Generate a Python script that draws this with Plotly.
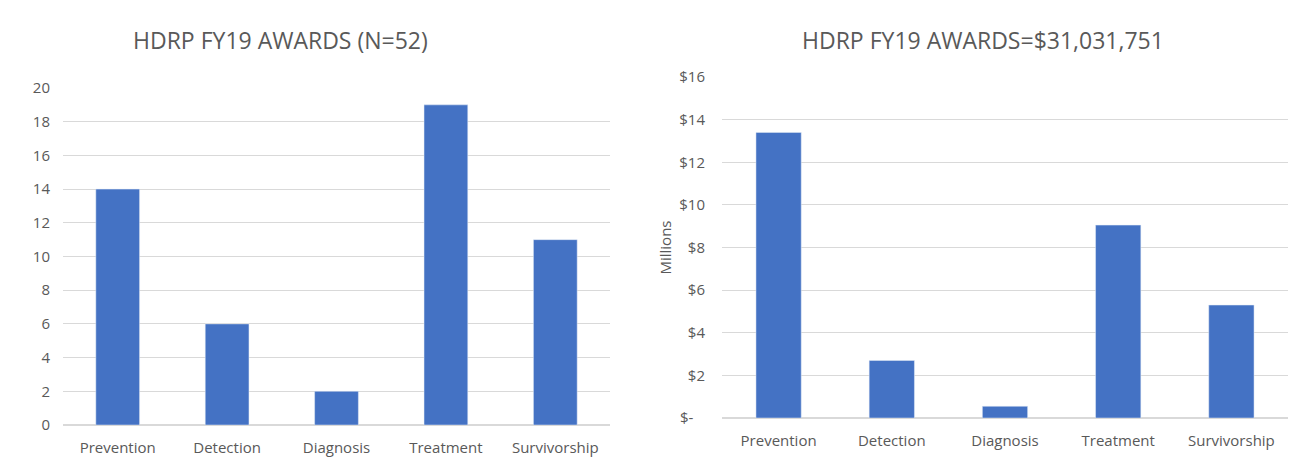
import plotly.graph_objects as go

categories = ["Prevention", "Detection", "Diagnosis", "Treatment", "Survivorship"]
award_counts = [14, 6, 2, 19, 11]
award_millions = [13.4, 2.7, 0.55, 9.05, 5.3]
left_title = "HDRP FY19 AWARDS (N=52)"
right_title = "HDRP FY19 AWARDS=$31,031,751"
count_ticks = [0, 2, 4, 6, 8, 10, 12, 14, 16, 18, 20]
money_ticks = [0, 2, 4, 6, 8, 10, 12, 14, 16]
money_ticktext = ["$-   ", "$2", "$4", "$6", "$8", "$10", "$12", "$14", "$16"]

BAR = "#4472C4"
TXT = "#595959"
GRID = "#D9D9D9"
FONT = "Open Sans"
W, H = 1309, 473

fig = go.Figure()
fig.add_trace(go.Bar(x=categories, y=award_counts, marker_color=BAR, xaxis="x", yaxis="y", showlegend=False))
fig.add_trace(go.Bar(x=categories, y=award_millions, marker_color=BAR, xaxis="x2", yaxis="y2", showlegend=False))

xcommon = dict(showgrid=False, showline=False, zeroline=False, ticks="outside", ticklen=9,
               tickcolor="rgba(0,0,0,0)", automargin=False,
               tickfont=dict(family=FONT, size=15, color=TXT))
ycommon = dict(showgrid=True, gridcolor=GRID, gridwidth=1, zeroline=True, zerolinecolor=GRID,
               showline=False, ticks="outside", tickcolor="rgba(0,0,0,0)", automargin=False,
               tickfont=dict(family=FONT, size=15, color=TXT))

fig.update_layout(
    width=W, height=H,
    margin=dict(l=0, r=0, t=0, b=0),
    paper_bgcolor="white", plot_bgcolor="white",
    bargap=0.6,
    xaxis=dict(domain=[63 / W, 610 / W], anchor="y", **xcommon),
    yaxis=dict(domain=[1 - 425 / H, 1 - 88 / H], anchor="x", range=[0, 20],
               tickvals=count_ticks, ticklen=9, **ycommon),
    xaxis2=dict(domain=[722 / W, 1288 / W], anchor="y2", **xcommon),
    yaxis2=dict(domain=[1 - 418 / H, 1 - 77 / H], anchor="x2", range=[0, 16],
                tickvals=money_ticks, ticktext=money_ticktext, ticklen=13,
                title=dict(text="Millions", font=dict(family=FONT, size=15, color=TXT), standoff=4),
                **ycommon),
    annotations=[
        dict(text=left_title, x=280 / W, y=1 - 40 / H, xref="paper", yref="paper",
             showarrow=False, xanchor="center", yanchor="middle",
             font=dict(family=FONT, size=23, color=TXT)),
        dict(text=right_title, x=983 / W, y=1 - 40 / H, xref="paper", yref="paper",
             showarrow=False, xanchor="center", yanchor="middle",
             font=dict(family=FONT, size=23, color=TXT)),
    ],
)

fig.write_html("out.html", config={"displayModeBar": False},
               post_script="document.body.style.margin='0';")
